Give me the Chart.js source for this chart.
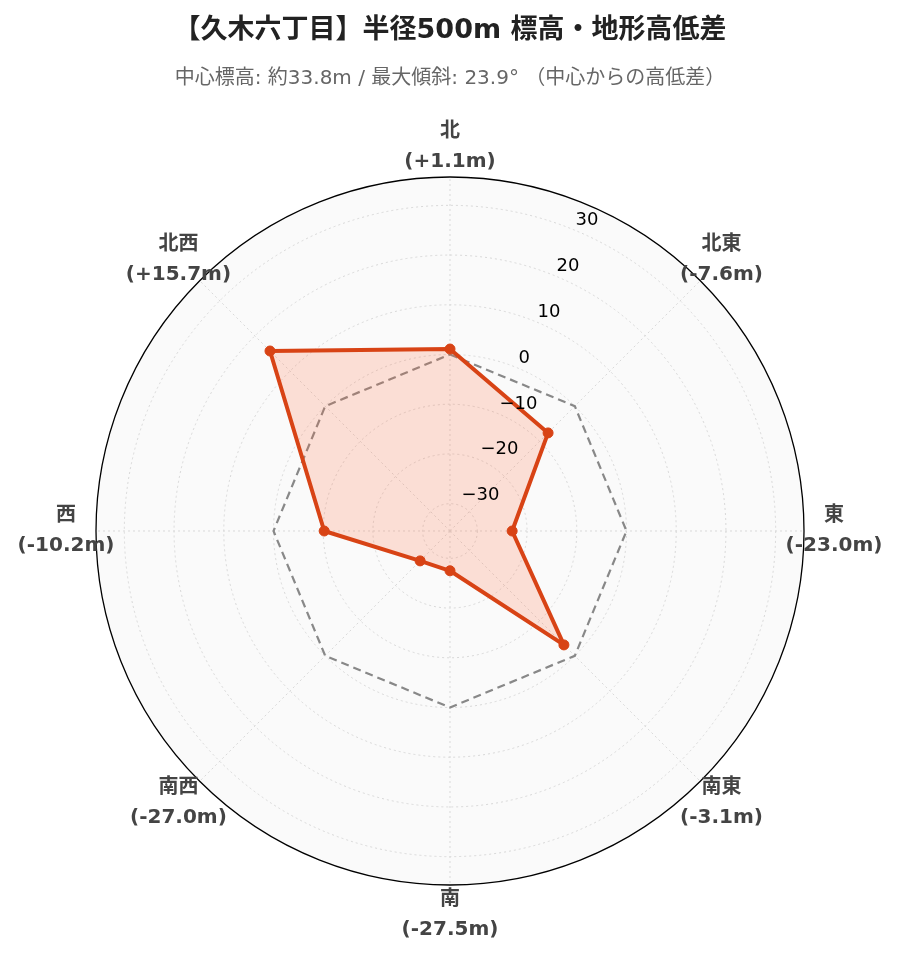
<!DOCTYPE html>
<html lang="ja">
<head>
<meta charset="utf-8">
<title>久木六丁目 標高・地形高低差</title>
<script src="https://cdn.jsdelivr.net/npm/chart.js@4.4.1/dist/chart.umd.min.js"></script>
<style>
  html, body { margin: 0; padding: 0; background: #fff; }
  #wrap { width: 899px; height: 962px; position: relative; }
</style>
</head>
<body>
<div id="wrap"><canvas id="terrainChart"></canvas></div>
<script>
// 方位ごとの中心からの高低差 (m)
const directions = ['北', '北東', '東', '南東', '南', '南西', '西', '北西'];
const elevationDiff = [1.1, -7.6, -23.0, -3.1, -27.5, -27.0, -10.2, 15.7];
const baseline = [0, 0, 0, 0, 0, 0, 0, 0];
const radialTicks = [-30, -20, -10, 0, 10, 20, 30];
const radialMin = -35.5;
const radialMax = 35.7;

const titleText = '【久木六丁目】半径500m 標高・地形高低差';
const subtitleText = '中心標高: 約33.8m / 最大傾斜: 23.9° （中心からの高低差）';

const FONT = "'DejaVu Sans', 'Noto Sans CJK JP', sans-serif";

function formatDiff(v) {
    return '(' + (v > 0 ? '+' : '') + v.toFixed(1) + 'm)';
}

function formatTick(v) {
    return v < 0 ? '\u2212' + Math.abs(v) : String(v);
}

// Background disc, outer rim, angled tick labels and two-line direction labels
const polarDecor = {
    id: 'polarDecor',
    beforeDraw(chart) {
        const s = chart.scales.r;
        const ctx = chart.ctx;
        ctx.save();
        ctx.fillStyle = '#fafafa';
        ctx.beginPath();
        ctx.arc(s.xCenter, s.yCenter, s.drawingArea, 0, Math.PI * 2);
        ctx.fill();
        ctx.restore();
    },
    beforeDatasetsDraw(chart) {
        const s = chart.scales.r;
        const ctx = chart.ctx;
        ctx.save();
        ctx.strokeStyle = '#000';
        ctx.lineWidth = 1.3;
        ctx.beginPath();
        ctx.arc(s.xCenter, s.yCenter, s.getDistanceFromCenterForValue(radialMax), 0, Math.PI * 2);
        ctx.stroke();
        ctx.restore();
    },
    afterDatasetsDraw(chart) {
        const s = chart.scales.r;
        const ctx = chart.ctx;
        ctx.save();

        // radial axis labels sit on a line 22.5° clockwise from north
        const angle = Math.PI / 8;
        ctx.font = '18px ' + FONT;
        ctx.fillStyle = '#000';
        ctx.textAlign = 'left';
        ctx.textBaseline = 'middle';
        radialTicks.forEach(v => {
            const d = s.getDistanceFromCenterForValue(v);
            const x = s.xCenter + Math.sin(angle) * d;
            const y = s.yCenter - Math.cos(angle) * d;
            ctx.fillText(formatTick(v), x + 1, y - 10);
        });

        ctx.font = 'bold 20px ' + FONT;
        ctx.fillStyle = '#444';
        ctx.textAlign = 'center';
        directions.forEach((name, i) => {
            const p = s.getPointPosition(i, s.drawingArea + 30);
            ctx.fillText(name, p.x, p.y - 15);
            ctx.fillText(formatDiff(elevationDiff[i]), p.x, p.y + 15);
        });
        ctx.restore();
    }
};

const chart = new Chart(document.getElementById('terrainChart'), {
    type: 'radar',
    data: {
        labels: directions,
        datasets: [
            {
                label: '中心からの高低差',
                data: elevationDiff,
                borderColor: '#d84315',
                backgroundColor: 'rgba(255, 112, 67, 0.2)',
                borderWidth: 4,
                borderJoinStyle: 'round',
                fill: 'start',
                tension: 0,
                pointRadius: 5,
                pointBackgroundColor: '#d84315',
                pointBorderColor: '#d84315',
                pointBorderWidth: 1,
                order: 0
            },
            {
                label: '中心標高 (±0m)',
                data: baseline,
                borderColor: '#888888',
                borderWidth: 2.2,
                borderDash: [8, 5],
                fill: false,
                tension: 0,
                pointRadius: 0,
                order: 1
            }
        ]
    },
    options: {
        responsive: true,
        maintainAspectRatio: false,
        animation: false,
        layout: {
            padding: { left: 95, right: 94, top: 0, bottom: 76 }
        },
        plugins: {
            legend: { display: false },
            tooltip: { enabled: false },
            title: {
                display: true,
                text: titleText,
                color: '#222',
                font: { family: FONT, size: 27, weight: 'bold' },
                padding: { top: 15, bottom: 16.8 }
            },
            subtitle: {
                display: true,
                text: subtitleText,
                color: '#666',
                font: { family: FONT, size: 20, weight: 'normal' },
                padding: { top: 3, bottom: 85 }
            }
        },
        scales: {
            r: {
                min: radialMin,
                max: radialMax,
                startAngle: 0,
                afterBuildTicks: scale => {
                    scale.ticks = radialTicks.map(v => ({ value: v }));
                },
                ticks: { display: false },
                pointLabels: { display: false },
                grid: { circular: true, color: '#d9d9d9', lineWidth: 1 },
                border: { dash: [2, 3] },
                angleLines: { color: '#d9d9d9', lineWidth: 1, borderDash: [2, 3] }
            }
        }
    },
    plugins: [polarDecor]
});
</script>
</body>
</html>
